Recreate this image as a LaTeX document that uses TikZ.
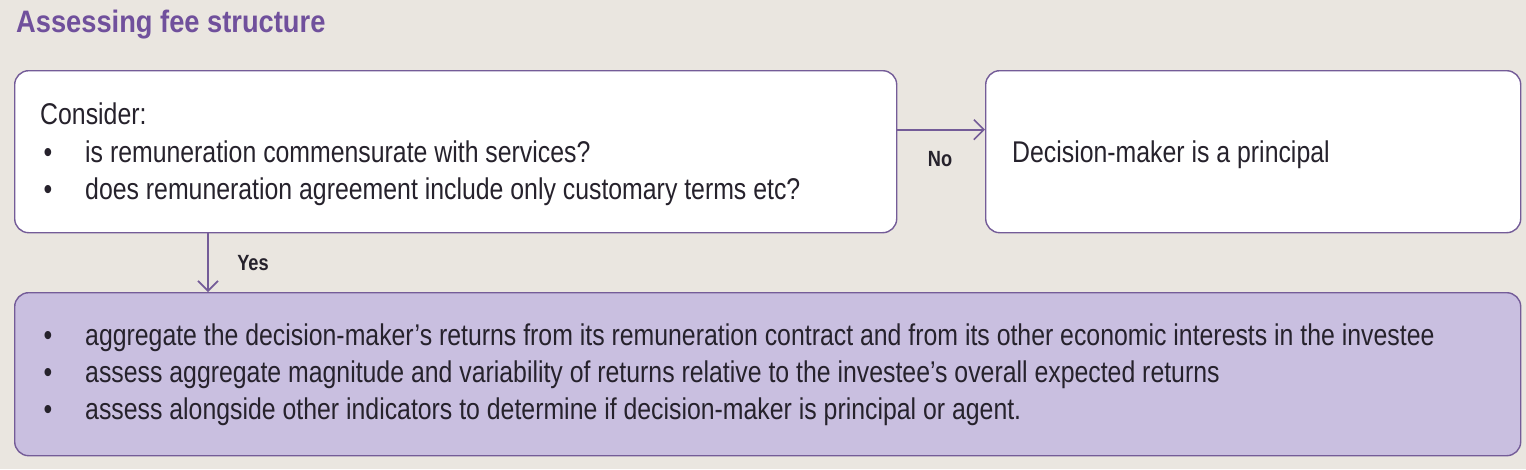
\documentclass[tikz,border=0pt]{standalone}
\usepackage{fontspec}
\setmainfont[FakeStretch=0.828]{Liberation Sans}
\newfontfamily\titlefont[FakeStretch=0.88]{Liberation Sans}
\usetikzlibrary{positioning,arrows.meta}

\definecolor{bgbeige}{RGB}{234,230,224}
\definecolor{boxpurple}{RGB}{116,92,152}
\definecolor{titlepurple}{RGB}{112,80,156}
\definecolor{lavender}{RGB}{201,191,224}
\definecolor{inkgrey}{RGB}{38,34,44}

\tikzset{
	box/.style={draw=boxpurple,line width=1.4pt,rounded corners=14pt,inner sep=0pt,anchor=north west},
	txt/.style={anchor=base west,inner sep=0pt,text=inkgrey,font=\fontsize{30}{36}\selectfont},
	dot/.style={anchor=base,inner sep=0pt,text=inkgrey,font=\fontsize{30}{36}\selectfont},
	lbl/.style={anchor=base,inner sep=0pt,text=inkgrey,font=\fontsize{22}{26}\selectfont\bfseries},
	link/.style={draw=boxpurple,line width=1.6pt,-{Straight Barb[length=10pt,width=20pt]}}
}

\begin{document}
\begin{tikzpicture}[x=1pt,y=-1pt]
	%background
	\fill[bgbeige] (0,0) rectangle (1526,469);
	\useasboundingbox (0,0) rectangle (1526,469);

	%title
	\node[anchor=base west,inner sep=0pt,text=titlepurple,font=\fontsize{31}{36}\titlefont\bfseries] (title) at (16,32) {Assessing fee structure};

	%boxes
	\node[box,fill=white,minimum width=882pt,minimum height=162pt] (consider) at (14,70) {};
	\node[box,fill=white,minimum width=535pt,minimum height=162pt] (principal) at (985,70) {};
	\node[box,fill=lavender,minimum width=1506pt,minimum height=163pt] (aggregate) at (14,292) {};

	%arrows
	\draw[link] ([yshift=22pt]consider.east) -- ([yshift=22pt]principal.west);
	\node[lbl] (no) at (940,166) {No};
	\draw[link] ([xshift=194pt]consider.south west) -- ([xshift=194pt]aggregate.north west);
	\node[lbl] (yes) at (253,270) {Yes};

	%consider text
	\node[txt] (cons) at (40,124) {Consider:};
	\node[dot] (b1) at (48,162) {•};
	\node[txt] (t1) at (85,162) {is remuneration commensurate with services?};
	\node[dot] (b2) at (48,199) {•};
	\node[txt] (t2) at (85,199) {does remuneration agreement include only customary terms etc?};

	%principal text
	\node[txt] (dm) at (1012,162) {Decision-maker is a principal};

	%aggregate text
	\node[dot] (b3) at (48,345) {•};
	\node[txt] (t3) at (85,345) {aggregate the decision-maker’s returns from its remuneration contract and from its other economic interests in the investee};
	\node[dot] (b4) at (48,382) {•};
	\node[txt] (t4) at (85,382) {assess aggregate magnitude and variability of returns relative to the investee’s overall expected returns};
	\node[dot] (b5) at (48,419) {•};
	\node[txt] (t5) at (85,419) {assess alongside other indicators to determine if decision-maker is principal or agent.};
\end{tikzpicture}
\end{document}
